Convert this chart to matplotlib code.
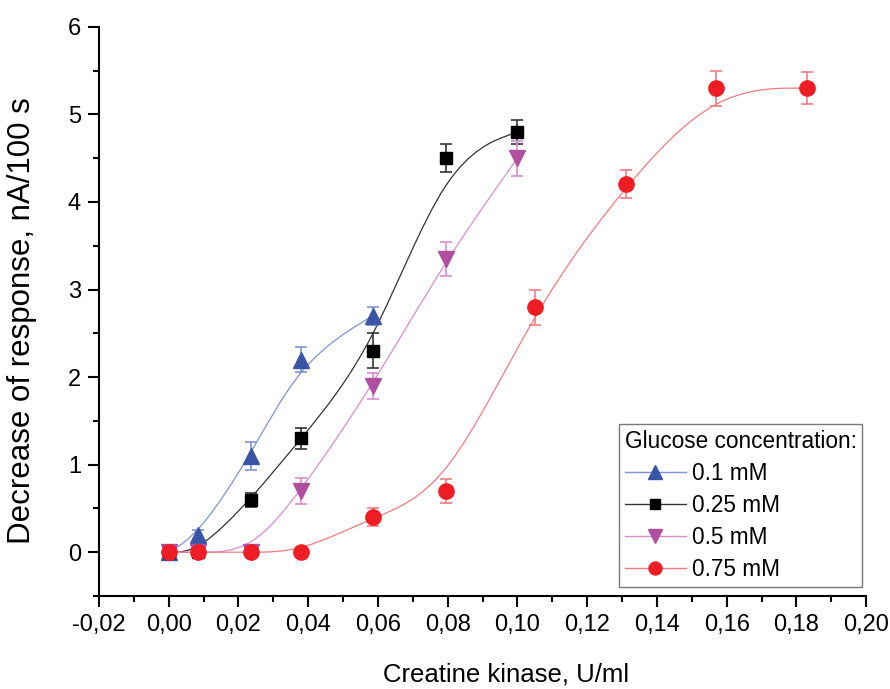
import numpy as np
import matplotlib.pyplot as plt
from matplotlib.path import Path
from matplotlib.patches import PathPatch
from matplotlib.lines import Line2D
from matplotlib.ticker import FuncFormatter, MultipleLocator

plt.rcParams['font.family'] = ['Liberation Sans', 'DejaVu Sans']

# Datos (x en U/ml, y en nA/100 s)
x_01 = [0.0, 0.0085, 0.0235, 0.038, 0.0585]
y_01 = [0.0, 0.2, 1.1, 2.2, 2.7]
e_01 = [0.05, 0.05, 0.16, 0.14, 0.1]

x_025 = [0.0, 0.0085, 0.0235, 0.038, 0.0585, 0.0795, 0.1]
y_025 = [0.0, 0.0, 0.6, 1.3, 2.3, 4.5, 4.8]
e_025 = [0.04, 0.04, 0.08, 0.12, 0.2, 0.16, 0.14]

x_05 = [0.0, 0.0085, 0.0235, 0.038, 0.0585, 0.0795, 0.1]
y_05 = [0.0, 0.0, 0.0, 0.7, 1.9, 3.35, 4.5]
e_05 = [0.04, 0.04, 0.04, 0.15, 0.15, 0.19, 0.2]

x_075 = [0.0, 0.0085, 0.0235, 0.038, 0.0585, 0.0795, 0.105, 0.131, 0.157, 0.183]
y_075 = [0.0, 0.0, 0.0, 0.0, 0.4, 0.7, 2.8, 4.2, 5.3, 5.3]
e_075 = [0.0, 0.0, 0.0, 0.0, 0.1, 0.14, 0.2, 0.16, 0.2, 0.18]

labels = ['0.1 mM', '0.25 mM', '0.5 mM', '0.75 mM']


def bspline_path(xs, ys):
    # Conexion tipo B-spline (como Origin): puntos como control, extremos triplicados
    P = np.column_stack([xs, ys])
    P = np.vstack([P[0], P[0], P])
    P = np.vstack([P, P[-1], P[-1]])
    verts, codes = [], []
    for i in range(len(P) - 3):
        b0, b1, b2, b3 = P[i], P[i + 1], P[i + 2], P[i + 3]
        q0 = (b0 + 4 * b1 + b2) / 6
        q1 = (2 * b1 + b2) / 3
        q2 = (b1 + 2 * b2) / 3
        q3 = (b1 + 4 * b2 + b3) / 6
        if i == 0:
            verts.append(q0)
            codes.append(Path.MOVETO)
        verts += [q1, q2, q3]
        codes += [Path.CURVE4] * 3
    return Path(verts, codes)


fig = plt.figure(figsize=(8.9, 6.89), dpi=100)
ax = fig.add_axes([0.1112, 0.135, 0.862, 0.826])

series = [
    (x_01, y_01, e_01, '^', '#3b55a6', '#7f93d0', 12),
    (x_025, y_025, e_025, 's', '#000000', '#333333', 8.5),
    (x_05, y_05, e_05, 'v', '#b04fa0', '#d88ccf', 12),
    (x_075, y_075, e_075, 'o', '#ee1c25', '#f47a7f', 11),
]

handles = []
for (xs, ys, es, mk, c, lc, ms), lab in zip(series, labels):
    ax.add_patch(PathPatch(bspline_path(xs, ys), facecolor='none',
                           edgecolor=lc, lw=0.9, zorder=2))
    ax.errorbar(xs, ys, yerr=es, fmt='none', ecolor=lc, elinewidth=1.2,
                capsize=4, capthick=1.2, zorder=3)
    ax.plot(xs, ys, ls='none', marker=mk, ms=ms, color=c, mec=c, zorder=4)
    handles.append(Line2D([], [], color=lc, lw=1.0, marker=mk, ms=ms * 0.85,
                          mfc=c, mec=c, label=lab))

ax.set_xlim(-0.02, 0.20)
ax.set_ylim(-0.5, 6)
ax.xaxis.set_major_locator(MultipleLocator(0.02))
ax.xaxis.set_minor_locator(MultipleLocator(0.01))
ax.yaxis.set_major_locator(MultipleLocator(1))
ax.yaxis.set_minor_locator(MultipleLocator(0.5))
ax.xaxis.set_major_formatter(FuncFormatter(lambda v, p: ('%.2f' % v).replace('.', ',')))
ax.yaxis.set_major_formatter(FuncFormatter(lambda v, p: '%d' % round(v)))

for s in ['top', 'right']:
    ax.spines[s].set_visible(False)
for s in ['left', 'bottom']:
    ax.spines[s].set_linewidth(1.5)
ax.tick_params(which='major', direction='out', length=8, width=1.5, labelsize=17, pad=5)
ax.tick_params(which='minor', direction='out', length=4.5, width=1.5)

ax.set_xlabel('Creatine kinase, U/ml', fontsize=18.5)
ax.set_ylabel('Decrease of response, nA/100 s', fontsize=22.5)
ax.xaxis.set_label_coords(0.531, -0.116)
ax.yaxis.set_label_coords(-0.081, 0.483)

leg = ax.legend(handles=handles, title='Glucose concentration:', loc='lower right',
                bbox_to_anchor=(0.995, 0.016), borderaxespad=0, fontsize=16.3,
                title_fontsize=16.3, fancybox=False, framealpha=1, edgecolor='#777777',
                handlelength=2.7, handletextpad=0.27, labelspacing=0.4, borderpad=0.25,
                alignment='left')
leg.get_frame().set_linewidth(1.0)

plt.savefig('out.png', dpi=100)
